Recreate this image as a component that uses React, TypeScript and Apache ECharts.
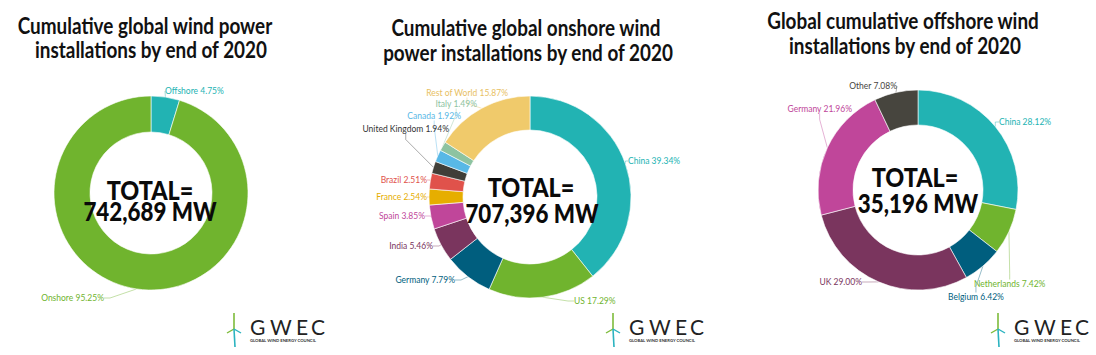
import React, { useEffect, useRef } from "react";
import * as echarts from "echarts";

// ---- data ----
const totalNames = ["Offshore", "Onshore"];
const totalShares = [4.75, 95.25];
const totalColors = ["#22b3b3", "#70b42e"];

const onshoreNames = ["China", "US", "Germany", "India", "Spain", "France", "Brazil", "United Kingdom", "Canada", "Italy", "Rest of World"];
const onshoreShares = [39.34, 17.29, 7.79, 5.46, 3.85, 2.54, 2.51, 1.94, 1.92, 1.49, 15.87];
const onshoreColors = ["#22b3b3", "#70b42e", "#005e7e", "#7a355e", "#c0469a", "#e6ae00", "#e0524b", "#403e38", "#58b8e6", "#8dc3a1", "#f0ca6b"];
const onshoreLabelColors = ["#22b3b3", "#70b42e", "#005e7e", "#7a355e", "#c0469a", "#e6ae00", "#e0524b", "#333333", "#58b8e6", "#8dc3a1", "#e8c062"];

const offshoreNames = ["China", "Netherlands", "Belgium", "UK", "Germany", "Other"];
const offshoreShares = [28.12, 7.42, 6.42, 29.0, 21.96, 7.08];
const offshoreColors = ["#22b3b3", "#70b42e", "#005e7e", "#7a355e", "#c0469a", "#47453e"];

const totalLabels = ["742,689 MW", "707,396 MW", "35,196 MW"];
const titleLines = [
  ["Cumulative global wind power", "installations by end of 2020"],
  ["Cumulative global onshore wind", "power installations by end of 2020"],
  ["Global cumulative offshore wind", "installations by end of 2020"],
];

// ---- layout (positions, not data) ----
const pies = [
  { center: [151, 193], radius: [61, 97] },
  { center: [530, 197], radius: [67, 101] },
  { center: [918, 190], radius: [65, 100] },
];
const labelPos: [number, number, string][][] = [
  [[165, 91, "left"], [104, 298, "right"]],
  [
    [628, 161, "left"], [574, 301, "left"], [455, 280, "right"], [433, 246, "right"],
    [425, 216, "right"], [427, 197, "right"], [427, 180, "right"], [449, 129, "right"],
    [461, 116, "right"], [477, 104, "right"], [508, 93, "right"],
  ],
  [
    [999, 122, "left"], [974, 284, "left"], [948, 297, "left"], [862, 282, "right"],
    [852, 109, "right"], [897, 86, "right"],
  ],
];
const titlePos = [
  [[145, 25], [151, 49]],
  [[526, 27], [528, 52]],
  [[903, 20], [905, 45]],
];
const centerTextPos = [
  [[150, 190], [150, 211]],
  [[531, 187], [532, 213]],
  [[915, 177], [918, 203]],
];
const logoPos = [[234, 313], [613, 313], [998, 313]];

const FONT = "Lato, 'Noto Sans', sans-serif";

function buildSeries(idx: number, names: string[], values: number[], colors: string[], labelColors: string[]) {
  return {
    type: "pie",
    z: 1,
    center: pies[idx].center,
    radius: pies[idx].radius,
    startAngle: 90,
    clockwise: true,
    avoidLabelOverlap: false,
    itemStyle: { borderColor: "#ffffff", borderWidth: 0.6 },
    label: {
      show: true,
      position: "outside",
      fontFamily: FONT,
      fontSize: 8.5,
      formatter: (p: any) => `${p.name} ${Number(p.value).toFixed(2)}%`,
    },
    labelLine: { show: true, length: 6, length2: 6, lineStyle: { width: 0.7, opacity: 0.6 } },
    labelLayout: (params: any) => {
      const p = labelPos[idx][params.dataIndex];
      return { x: p[0], y: p[1], align: p[2], verticalAlign: "middle" };
    },
    emphasis: { disabled: true },
    data: names.map((n, i) => ({
      name: n,
      value: values[i],
      itemStyle: { color: colors[i] },
      label: { color: labelColors[i] },
      labelLine: { lineStyle: { color: labelColors[i] } },
    })),
  };
}

function logo(x: number, y: number) {
  const hx = x, hy = y + 16;
  return {
    type: "group",
    z: 100,
    children: [
      { type: "line", z: 100, shape: { x1: hx, y1: y, x2: hx, y2: hy }, style: { stroke: "#7dbb3a", lineWidth: 1.6 } },
      { type: "line", z: 100, shape: { x1: hx, y1: hy, x2: hx - 7, y2: hy + 4 }, style: { stroke: "#7dbb3a", lineWidth: 1.4 } },
      { type: "line", z: 100, shape: { x1: hx, y1: hy, x2: hx + 7, y2: hy + 4 }, style: { stroke: "#2bb3c0", lineWidth: 1.4 } },
      { type: "line", z: 100, shape: { x1: hx, y1: hy, x2: hx + 1, y2: hy + 18 }, style: { stroke: "#2bb3c0", lineWidth: 1.6 } },
      ...["G", "W", "E", "C"].map((ch, i) => ({
        type: "text",
        z: 100,
        x: x + 16 + [0, 20, 46, 61][i],
        y: y + 3,
        style: { text: ch, font: `400 21px ${FONT}`, fill: "#222222", textVerticalAlign: "top" },
      })),
      {
        type: "text",
        z: 100,
        x: x + 16,
        y: y + 25,
        style: { text: "GLOBAL WIND ENERGY COUNCIL", font: `700 4.2px ${FONT}`, fill: "#333333", textVerticalAlign: "top" },
      },
    ],
  };
}

export default function App() {
  const ref = useRef<HTMLDivElement>(null);
  useEffect(() => {
    document.body.style.margin = "0";
    const chart = echarts.init(ref.current!, undefined, { renderer: "svg" });
    const graphics: any[] = [];
    titleLines.forEach((lines, i) => {
      lines.forEach((t, j) => {
        graphics.push({
          type: "text",
          z: 100,
          x: titlePos[i][j][0],
          y: titlePos[i][j][1],
          scaleX: 0.86,
          style: { text: t, font: `700 22px ${FONT}`, fill: "#111111", align: "center", verticalAlign: "middle" },
        });
      });
    });
    totalLabels.forEach((t, i) => {
      graphics.push({
        type: "text",
        z: 100,
        x: centerTextPos[i][0][0],
        y: centerTextPos[i][0][1],
        scaleX: 0.9,
        style: { text: "TOTAL=", font: `900 26px ${FONT}`, fill: "#0a0a0a", align: "center", verticalAlign: "middle" },
      });
      graphics.push({
        type: "text",
        z: 100,
        x: centerTextPos[i][1][0],
        y: centerTextPos[i][1][1],
        scaleX: 0.86,
        style: { text: t, font: `900 26px ${FONT}`, fill: "#0a0a0a", align: "center", verticalAlign: "middle" },
      });
    });
    logoPos.forEach((p) => graphics.push(logo(p[0], p[1])));

    chart.setOption({
      animation: false,
      backgroundColor: "#ffffff",
      series: [
        buildSeries(0, totalNames, totalShares, totalColors, totalColors),
        buildSeries(1, onshoreNames, onshoreShares, onshoreColors, onshoreLabelColors),
        buildSeries(2, offshoreNames, offshoreShares, offshoreColors, offshoreColors),
      ],
      graphic: graphics,
    });
    return () => chart.dispose();
  }, []);
  return <div ref={ref} style={{ width: 1096, height: 355 }} />;
}
